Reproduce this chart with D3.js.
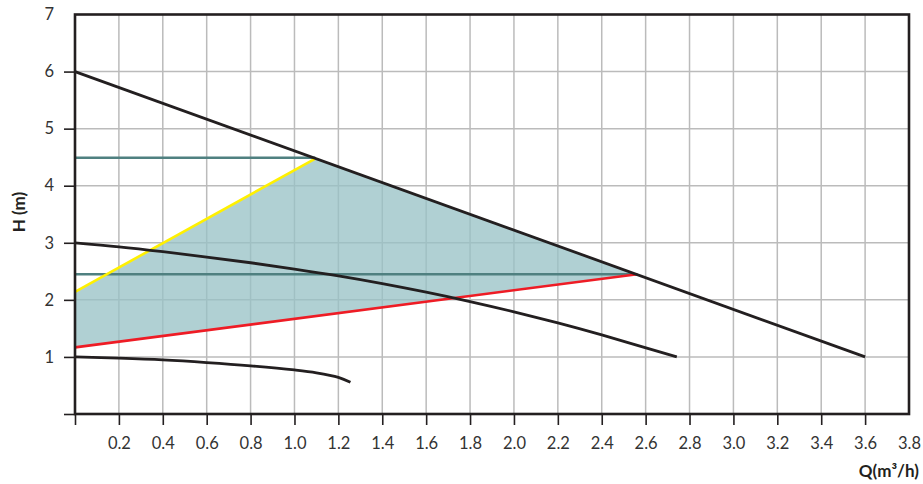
<!DOCTYPE html>
<html>
<head>
<meta charset="utf-8">
<script src="https://cdn.jsdelivr.net/npm/d3@7"></script>
<style>
  html, body { margin: 0; padding: 0; background: #fff; }
  svg { display: block; }
  .tick text { font-family: Lato, "Open Sans", sans-serif; font-size: 16.5px; fill: #333; }
</style>
</head>
<body>
<svg id="chart" width="923" height="484"></svg>
<script>
// ---- data ----
const xTickValues = [0,0.2,0.4,0.6,0.8,1.0,1.2,1.4,1.6,1.8,2.0,2.2,2.4,2.6,2.8,3.0,3.2,3.4,3.6,3.8];
const xTickLabels = ["","0.2","0.4","0.6","0.8","1.0","1.2","1.4","1.6","1.8","2.0","2.2","2.4","2.6","2.8","3.0","3.2","3.4","3.6","3.8"];
const yTickValues = [0,1,2,3,4,5,6,7];
const yTickLabels = ["","1","2","3","4","5","6","7"];

// max speed curve (straight)
const maxQ = [0, 3.6];
const maxH = [6, 1];
// middle speed curve
const midQ = [0, 0.2, 0.4, 0.6, 0.8, 1.0, 1.2, 1.4, 1.6, 1.8, 2.0, 2.2, 2.4, 2.742];
const midH = [3.0, 2.93, 2.845, 2.75, 2.65, 2.54, 2.42, 2.285, 2.135, 1.97, 1.79, 1.595, 1.385, 1.0];
// low speed curve
const lowQ = [0, 0.2, 0.4, 0.6, 0.8, 1.0, 1.1, 1.2, 1.255];
const lowH = [1.0, 0.978, 0.948, 0.902, 0.845, 0.772, 0.722, 0.642, 0.555];
// proportional pressure (red) and constant pressure limits
const redQ = [0, 2.562];
const redH = [1.167, 2.45];
const yellowQ = [0, 1.095];
const yellowH = [2.14, 4.475];
const tealTopQ = [0, 1.095];
const tealTopH = [4.49, 4.49];
const tealLowQ = [0, 2.562];
const tealLowH = [2.45, 2.45];
// shaded control area
const areaQ = [0, 0, 1.095, 2.562];
const areaH = [1.167, 2.14, 4.48, 2.442];

// ---- layout ----
const svg = d3.select("#chart");
const L = 75, R = 909, T = 14.5, B = 414;
const x = d3.scaleLinear().domain([0, 3.8]).range([L, R]);
const y = d3.scaleLinear().domain([0, 7]).range([B, T]);

const zip = (qs, hs) => qs.map((q, i) => [q, hs[i]]);

// grid
const grid = svg.append("g");
grid.selectAll(".gv").data(xTickValues.filter(v => v > 0 && v < 3.8)).join("line")
  .attr("x1", d => x(d)).attr("x2", d => x(d)).attr("y1", T).attr("y2", B)
  .attr("stroke", "#bbbbbb").attr("stroke-width", 1.5);
grid.selectAll(".gh").data(yTickValues.filter(v => v > 0 && v < 7)).join("line")
  .attr("y1", d => y(d)).attr("y2", d => y(d)).attr("x1", L).attr("x2", R)
  .attr("stroke", "#bbbbbb").attr("stroke-width", 1.5);

// shaded area
svg.append("path")
  .attr("d", d3.line().x(d => x(d[0])).y(d => y(d[1]))(zip(areaQ, areaH)) + "Z")
  .attr("fill", "rgb(152,194,198)").attr("fill-opacity", 0.77);

const straight = d3.line().x(d => x(d[0])).y(d => y(d[1]));
const smooth = d3.line().x(d => x(d[0])).y(d => y(d[1])).curve(d3.curveCatmullRom.alpha(0.5));

function draw(gen, qs, hs, color, w) {
  svg.append("path").attr("d", gen(zip(qs, hs)))
    .attr("fill", "none").attr("stroke", color).attr("stroke-width", w)
    .attr("stroke-linecap", "butt").attr("stroke-linejoin", "round");
}

draw(straight, tealTopQ, tealTopH, "#4f8080", 2.6);
draw(straight, tealLowQ, tealLowH, "#4f8080", 2.6);
draw(straight, yellowQ, yellowH, "#fff000", 2.6);
draw(straight, redQ, redH, "#ee1c25", 2.6);
draw(straight, maxQ, maxH, "#231f20", 2.8);
draw(smooth, midQ, midH, "#231f20", 2.8);
draw(smooth, lowQ, lowH, "#231f20", 2.8);

// axes
const yAxis = d3.axisLeft(y).tickValues(yTickValues)
  .tickFormat((d, i) => yTickLabels[i]).tickSize(11).tickPadding(10);
const gy = svg.append("g").attr("transform", `translate(${L},0)`).call(yAxis);
gy.select(".domain").remove();
gy.selectAll(".tick line").attr("stroke", "#231f20").attr("stroke-width", 1.6)
  .filter(d => d === 7).remove();

const xAxis = d3.axisBottom(x).tickValues(xTickValues)
  .tickFormat((d, i) => xTickLabels[i]).tickSize(11).tickPadding(12);
const gx = svg.append("g").attr("transform", `translate(0,${B})`).call(xAxis);
gx.select(".domain").remove();
gx.selectAll(".tick line").attr("stroke", "#231f20").attr("stroke-width", 1.6)
  .filter(d => d === 3.8).remove();

// frame
svg.append("rect").attr("x", L).attr("y", T).attr("width", R - L).attr("height", B - T)
  .attr("fill", "none").attr("stroke", "#231f20").attr("stroke-width", 2.6);

// axis titles
svg.append("text").attr("x", 919).attr("y", 477).attr("text-anchor", "end")
  .attr("font-family", "Lato, 'Open Sans', sans-serif").attr("font-weight", "bold")
  .attr("font-size", 17).attr("fill", "#231f20").text("Q(m³/h)");
svg.append("text").attr("transform", "translate(25,212) rotate(-90)").attr("text-anchor", "middle")
  .attr("font-family", "Lato, 'Open Sans', sans-serif").attr("font-weight", "bold")
  .attr("font-size", 17).attr("fill", "#231f20").text("H (m)");
</script>
</body>
</html>
